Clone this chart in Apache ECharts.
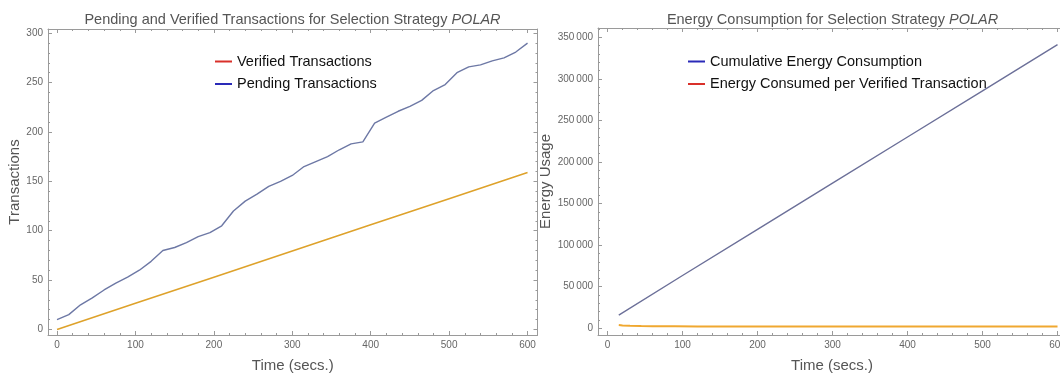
<!DOCTYPE html>
<html>
<head>
<meta charset="utf-8">
<script src="https://cdn.jsdelivr.net/npm/echarts@6/dist/echarts.min.js"></script>
<style>
  html, body { margin: 0; padding: 0; background: #fff; }
  #chart { width: 1060px; height: 373px; }
</style>
</head>
<body>
<div id="chart"></div>
<script>
// left panel: pending / verified transactions
const pendingTimes = [0, 15, 30, 45, 60, 75, 90, 105, 120, 135, 150, 165, 180, 195, 210, 225, 240, 255, 270, 285,
  300, 315, 330, 345, 360, 375, 390, 405, 420, 435, 450, 465, 480, 495, 510, 525, 540, 555, 570, 585, 600];
const pendingCounts = [10, 15, 25, 32, 40, 47, 53, 60, 69, 80, 83, 88, 94, 98, 105, 120, 130, 137, 145, 150,
  156, 165, 170, 175, 182, 188, 190, 209, 215, 221, 226, 232, 242, 248, 260, 266, 268, 272, 275, 281, 290];
const verifiedTimes = [0, 100, 200, 300, 400, 500, 600];
const verifiedCounts = [0, 26.5, 53, 79.5, 106, 132.5, 159];

// right panel: energy
const energyTimes = [15, 100, 200, 300, 400, 500, 600];
const cumulativeEnergy = [16000, 63500, 119000, 174500, 230000, 285500, 341000];
const perTxTimes = [15, 20, 30, 45, 60, 90, 120, 180, 300, 450, 600];
const energyPerTx = [4000, 3500, 3000, 2700, 2550, 2400, 2330, 2250, 2180, 2150, 2130];

const zip = (xs, ys) => xs.map((x, i) => [x, ys[i]]);

const frameColor = '#9a9a9a';
const labelColor = '#666';
const nameColor = '#555';
const font = 'Liberation Sans, Arial, sans-serif';

// labels only on the round values, the frame ends are not round
const fmtX = v => (v % 100 === 0 ? String(v) : '');
const fmtY1 = v => (v % 50 === 0 ? String(v) : '');
const fmtY2 = v => {
  if (v % 50000 !== 0) return '';
  return v >= 1000 ? String(v).replace(/\B(?=(\d{3})+(?!\d))/g, '\u2009') : String(v);
};

function frameAxis(opts, formatter) {
  return Object.assign({
    type: 'value',
    axisLine: { show: true, onZero: false, lineStyle: { color: frameColor, width: 1 } },
    axisTick: { show: true, inside: true, length: 4, lineStyle: { color: frameColor } },
    minorTick: { show: true, splitNumber: 5, length: 2, lineStyle: { color: frameColor } },
    splitLine: { show: false },
    axisLabel: { show: !!formatter, formatter: formatter, color: labelColor, fontSize: 10, fontFamily: font, margin: 5 }
  }, opts);
}

const titleStyle = {
  color: nameColor, fontSize: 14.5, fontWeight: 'normal', fontFamily: font,
  rich: { i: { color: nameColor, fontSize: 14.5, fontStyle: 'italic', fontFamily: font } }
};
const nameStyle = { color: nameColor, fontSize: 15, fontFamily: font };
const legendText = { color: '#111', fontSize: 14.5, fontFamily: font };

const L = { min: -11.5, max: 612.7 };
const LY = { min: -5.6, max: 304.3 };
const R = { min: -12.7, max: 611.3 };
const RY = { min: -8000, max: 361000 };

const chart = echarts.init(document.getElementById('chart'));
chart.setOption({
  backgroundColor: '#fff',
  animation: false,
  title: [
    { text: 'Pending and Verified Transactions for Selection Strategy {i|POLAR}', left: 287.5, top: 7,
      textAlign: 'center', textStyle: titleStyle },
    { text: 'Energy Consumption for Selection Strategy {i|POLAR}', left: 827.5, top: 7,
      textAlign: 'center', textStyle: titleStyle }
  ],
  legend: [
    { orient: 'vertical', left: 210, top: 49, itemWidth: 17, itemHeight: 2, itemGap: 7.5, icon: 'rect',
      textStyle: legendText,
      data: [
        { name: 'Verified Transactions', itemStyle: { color: '#d9302a' } },
        { name: 'Pending Transactions', itemStyle: { color: '#2a2ab8' } }
      ] },
    { orient: 'vertical', left: 683, top: 49, itemWidth: 17, itemHeight: 2, itemGap: 7.5, icon: 'rect',
      textStyle: legendText,
      data: [
        { name: 'Cumulative Energy Consumption', itemStyle: { color: '#2a2ab8' } },
        { name: 'Energy Consumed per Verified Transaction', itemStyle: { color: '#d9302a' } }
      ] }
  ],
  grid: [
    { left: 48, top: 29, width: 489.5, height: 306, outerBoundsMode: 'none' },
    { left: 598, top: 28, width: 468, height: 307, outerBoundsMode: 'none' }
  ],
  xAxis: [
    frameAxis({ gridIndex: 0, position: 'bottom', min: L.min, max: L.max, splitNumber: 6,
      name: 'Time (secs.)', nameLocation: 'middle', nameGap: 23, nameTextStyle: nameStyle }, fmtX),
    frameAxis({ gridIndex: 0, position: 'top', min: L.min, max: L.max, splitNumber: 6 }),
    frameAxis({ gridIndex: 1, position: 'bottom', min: R.min, max: R.max, splitNumber: 6,
      name: 'Time (secs.)', nameLocation: 'middle', nameGap: 23, nameTextStyle: nameStyle }, fmtX),
    frameAxis({ gridIndex: 1, position: 'top', min: R.min, max: R.max, splitNumber: 6 })
  ],
  yAxis: [
    frameAxis({ gridIndex: 0, position: 'left', min: LY.min, max: LY.max, splitNumber: 6,
      name: 'Transactions', nameLocation: 'middle', nameGap: 24, nameTextStyle: nameStyle }, fmtY1),
    frameAxis({ gridIndex: 0, position: 'right', min: LY.min, max: LY.max, splitNumber: 6 }),
    frameAxis({ gridIndex: 1, position: 'left', min: RY.min, max: RY.max, splitNumber: 7,
      name: 'Energy Usage', nameLocation: 'middle', nameGap: 42, nameTextStyle: nameStyle }, fmtY2),
    frameAxis({ gridIndex: 1, position: 'right', min: RY.min, max: RY.max, splitNumber: 7 })
  ],
  series: [
    { name: 'Verified Transactions', type: 'line', xAxisIndex: 0, yAxisIndex: 0, showSymbol: false,
      color: '#dea22b', lineStyle: { width: 1.6, color: '#dea22b' }, data: zip(verifiedTimes, verifiedCounts) },
    { name: 'Pending Transactions', type: 'line', xAxisIndex: 0, yAxisIndex: 0, showSymbol: false,
      color: '#6d78a5', lineStyle: { width: 1.4, color: '#6d78a5' }, data: zip(pendingTimes, pendingCounts) },
    { name: 'Cumulative Energy Consumption', type: 'line', xAxisIndex: 2, yAxisIndex: 2, showSymbol: false,
      color: '#6c7099', lineStyle: { width: 1.4, color: '#6c7099' }, data: zip(energyTimes, cumulativeEnergy) },
    { name: 'Energy Consumed per Verified Transaction', type: 'line', xAxisIndex: 2, yAxisIndex: 2, showSymbol: false,
      color: '#f0a830', lineStyle: { width: 2, color: '#f0a830' }, data: zip(perTxTimes, energyPerTx) }
  ]
});
</script>
</body>
</html>
